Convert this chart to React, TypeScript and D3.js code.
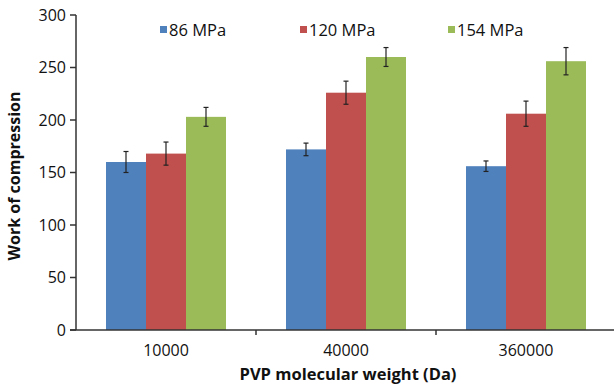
import React from "react";
import * as d3 from "d3";

const categories = ["10000", "40000", "360000"];
const seriesNames = ["86 MPa", "120 MPa", "154 MPa"];
const values86 = [160, 172, 156];
const values120 = [168, 226, 206];
const values154 = [203, 260, 256];
const err86 = [10, 6, 5];
const err120 = [11, 11, 12];
const err154 = [9, 9, 13];
const yTicks = [0, 50, 100, 150, 200, 250, 300];
const colors = ["#4F81BD", "#C0504D", "#9BBB59"];

const W = 614;
const H = 385;
const left = 76;
const right = 616;
const top = 15;
const bottom = 330;
const font = "'Open Sans', 'Noto Sans', sans-serif";

export default function App() {
  const values = [values86, values120, values154];
  const errs = [err86, err120, err154];
  const x0 = d3.scaleBand<string>().domain(categories).range([left, right]).padding(0);
  const x1 = d3
    .scaleBand<string>()
    .domain(seriesNames)
    .range([0, x0.bandwidth()])
    .paddingInner(0)
    .paddingOuter(0.75);
  const y = d3.scaleLinear().domain([0, 300]).range([bottom, top]);
  const legendX = [160, 300, 448];

  return (
    <svg width={W} height={H} style={{ position: "absolute", left: 0, top: 0, background: "#fff" }}>
      {categories.map((c, ci) =>
        seriesNames.map((s, si) => {
          const v = values[si][ci];
          const e = errs[si][ci];
          const bx = (x0(c) ?? 0) + (x1(s) ?? 0);
          const cx = bx + x1.bandwidth() / 2;
          return (
            <g key={c + s}>
              <rect x={bx} y={y(v)} width={x1.bandwidth()} height={bottom - y(v)} fill={colors[si]} />
              <line x1={cx} x2={cx} y1={y(v + e)} y2={y(v - e)} stroke="#222" strokeWidth={1.2} />
              <line x1={cx - 2.5} x2={cx + 2.5} y1={y(v + e)} y2={y(v + e)} stroke="#222" strokeWidth={1.2} />
              <line x1={cx - 2.5} x2={cx + 2.5} y1={y(v - e)} y2={y(v - e)} stroke="#222" strokeWidth={1.2} />
            </g>
          );
        })
      )}
      {/* y axis */}
      <line x1={left} x2={left} y1={top} y2={bottom} stroke="#333" strokeWidth={1.5} />
      {yTicks.map((t) => (
        <g key={t}>
          <line x1={left - 6} x2={left} y1={y(t)} y2={y(t)} stroke="#333" strokeWidth={1.5} />
          <text x={left - 10} y={y(t)} dy="0.35em" textAnchor="end" fontFamily={font} fontSize={16} fill="#111">
            {t}
          </text>
        </g>
      ))}
      {/* x axis */}
      <line x1={left - 6} x2={W} y1={bottom} y2={bottom} stroke="#333" strokeWidth={1.5} />
      {categories.slice(1).map((c) => (
        <line key={c} x1={x0(c)} x2={x0(c)} y1={bottom} y2={bottom + 5} stroke="#333" strokeWidth={1.5} />
      ))}
      {categories.map((c) => (
        <text
          key={c}
          x={(x0(c) ?? 0) + x0.bandwidth() / 2}
          y={356}
          textAnchor="middle"
          fontFamily={font}
          fontSize={16}
          fill="#111"
        >
          {c}
        </text>
      ))}
      <text x={348} y={380} textAnchor="middle" fontFamily={font} fontSize={16.5} fontWeight="bold" fill="#111">
        PVP molecular weight (Da)
      </text>
      <text
        transform={`translate(20, 176) rotate(-90)`}
        textAnchor="middle"
        fontFamily={font}
        fontSize={16}
        fontWeight="bold"
        fill="#111"
      >
        Work of compression
      </text>
      {seriesNames.map((s, i) => (
        <g key={s}>
          <rect x={legendX[i]} y={26} width={7} height={7} fill={colors[i]} />
          <text x={legendX[i] + 9} y={36} fontFamily={font} fontSize={16.5} fill="#111">
            {s}
          </text>
        </g>
      ))}
    </svg>
  );
}
